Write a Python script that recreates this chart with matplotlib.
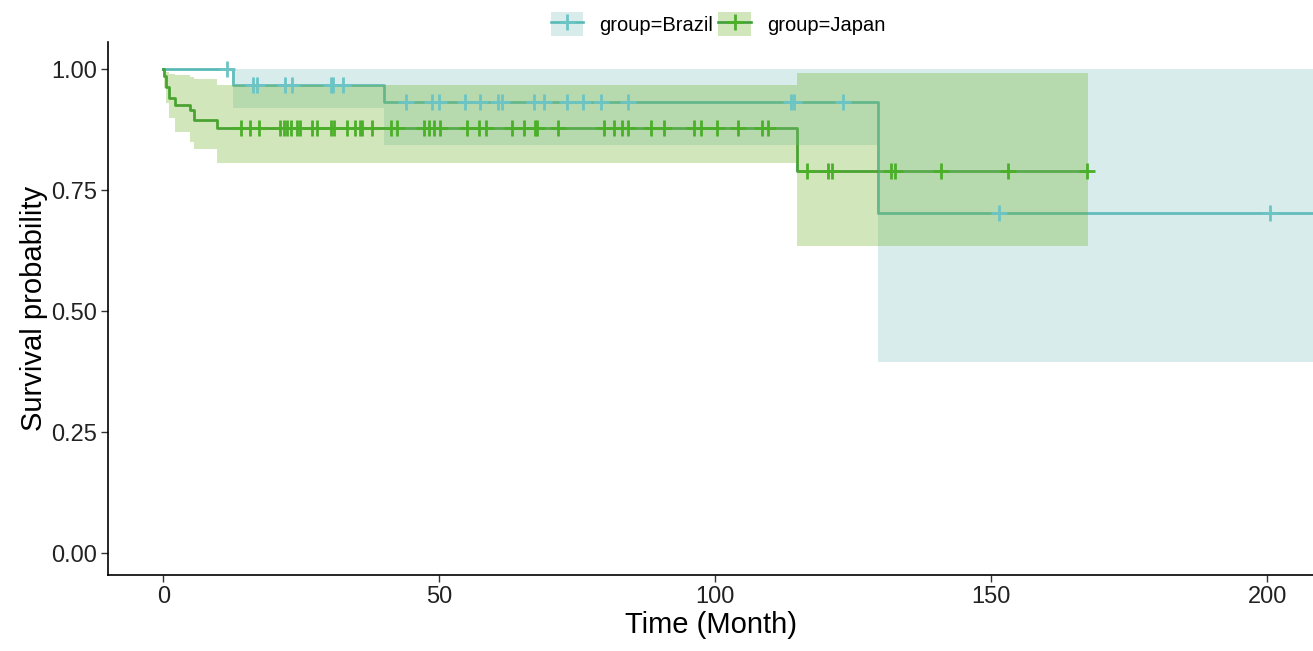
import numpy as np
import matplotlib
matplotlib.use("Agg")
import matplotlib.pyplot as plt
from matplotlib.patches import Patch
from matplotlib.lines import Line2D

plt.rcParams['font.family'] = ['Liberation Sans', 'DejaVu Sans']

# ---------------- data ----------------
groups = ["group=Brazil", "group=Japan"]

brazil_time = [0, 12.7, 40.0, 129.5, 215.0]
brazil_surv = [1.0, 0.968, 0.932, 0.702, 0.702]
brazil_lower = [1.0, 0.919, 0.843, 0.395, 0.395]
brazil_upper = [1.0, 1.0, 1.0, 1.0, 1.0]
brazil_censor = [11.6, 16.3, 17.0, 22.1, 23.4, 30.3, 30.8, 32.6,
                 44.0, 48.7, 49.9, 54.6, 57.4, 60.6, 61.4, 67.1, 69.0,
                 73.1, 76.0, 79.3, 84.2, 113.8, 114.3, 123.2,
                 151.4, 200.5]

japan_time = [0, 0.2, 0.5, 1.0, 2.2, 4.9, 5.5, 9.7, 114.9, 167.5]
japan_surv = [1.0, 0.985, 0.963, 0.94, 0.926, 0.915, 0.895, 0.878, 0.789, 0.789]
japan_lower = [1.0, 0.96, 0.93, 0.90, 0.87, 0.85, 0.835, 0.806, 0.634, 0.634]
japan_upper = [1.0, 1.0, 0.995, 0.99, 0.988, 0.984, 0.98, 0.967, 0.992, 0.992]
japan_censor = [14.0, 15.7, 17.3, 21.2, 21.8, 22.5, 23.2, 24.2, 24.7, 26.9,
                27.8, 30.3, 30.9, 33.3, 34.8, 35.6, 36.0, 37.9, 41.3, 42.3,
                47.2, 48.1, 49.0, 50.1, 55.0, 57.2, 58.4, 63.2, 65.4, 67.4,
                67.8, 71.6, 79.8, 81.6, 83.1, 84.2, 88.4, 90.7, 96.1, 97.4,
                100.3, 104.2, 108.5, 109.6,
                116.6, 120.4, 121.2, 131.8, 132.6, 140.9, 153.0, 167.4]

x_ticks = [0, 50, 100, 150, 200]
y_ticks = [0.00, 0.25, 0.50, 0.75, 1.00]
y_ticklabels = ["0.00", "0.25", "0.50", "0.75", "1.00"]

line_colors = ["#58BAB7", "#3E9F3A"]
mark_colors = ["#6CC4C4", "#4CAF2A"]
fill_colors = ["#80C3C3", "#68AE1E"]
band_alpha = 0.3

# ---------------- plot ----------------
fig = plt.figure(figsize=(13.13, 6.51), dpi=100)
ax = fig.add_axes([0.0823, 0.1167, 0.9177, 0.8188])

series = [
    (brazil_time, brazil_surv, brazil_lower, brazil_upper, brazil_censor),
    (japan_time, japan_surv, japan_lower, japan_upper, japan_censor),
]

for (t, s, lo, up, cens), col in zip(series, line_colors):
    ax.step(t, s, where='post', color=col, lw=2.0, zorder=2)

for (t, s, lo, up, cens), col in zip(series, fill_colors):
    ax.fill_between(t, lo, up, step='post', color=col, alpha=band_alpha,
                    lw=0, zorder=3)

for (t, s, lo, up, cens), col in zip(series, mark_colors):
    t = np.asarray(t); s = np.asarray(s)
    idx = np.searchsorted(t, np.asarray(cens), side='right') - 1
    ax.plot(cens, s[idx], ls='none', marker='+', ms=11, mew=2.0,
            color=col, zorder=4)

ax.set_xlim(-10, 208.3)
ax.set_ylim(-0.045, 1.056)
ax.set_xticks(x_ticks)
ax.set_xticklabels([str(v) for v in x_ticks])
ax.set_yticks(y_ticks)
ax.set_yticklabels(y_ticklabels)
ax.tick_params(axis='both', labelsize=17, length=5, width=1, color='#333333',
               labelcolor='#222222', pad=3)
for side in ['top', 'right']:
    ax.spines[side].set_visible(False)
for side in ['left', 'bottom']:
    ax.spines[side].set_linewidth(1.2)
    ax.spines[side].set_color('black')

ax.set_xlabel("Time (Month)", fontsize=21, labelpad=2)
ax.set_ylabel("Survival probability", fontsize=21, labelpad=2)

handles = []
for lc, mc, fc in zip(line_colors, mark_colors, fill_colors):
    handles.append((Patch(facecolor=fc, alpha=band_alpha, edgecolor='none'),
                    Line2D([], [], color=lc, lw=1.9, marker='+', ms=11,
                           mew=2.0, markeredgecolor=mc)))
fig.legend(handles, groups, loc='center', bbox_to_anchor=(0.547, 0.963),
           ncol=2, frameon=False, fontsize=14.5, handlelength=1.6,
           handleheight=1.4, columnspacing=0.25, handletextpad=0.8)

fig.savefig("out.png", dpi=100)
